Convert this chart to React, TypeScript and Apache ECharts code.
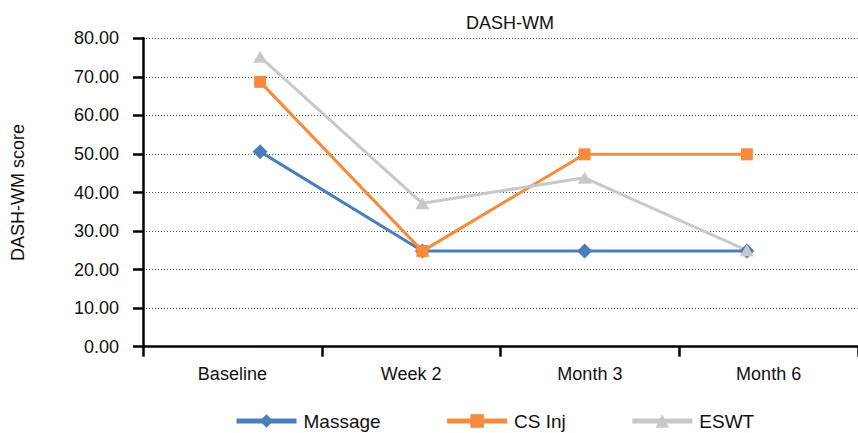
import React, { useEffect, useRef } from "react";
import * as echarts from "echarts";

const categories = ["Baseline", "Week 2", "Month 3", "Month 6"];
const massage = [50.6, 24.8, 24.8, 24.8];
const csInj = [68.7, 24.8, 49.9, 49.9];
const eswt = [75.2, 37.2, 43.8, 25.0];
const yTicks = { min: 0, max: 80, interval: 10 };

const FONT = "'Liberation Sans', Arial, Helvetica, sans-serif";

export default function App() {
  const ref = useRef<HTMLDivElement>(null);
  useEffect(() => {
    if (!ref.current) return;
    const chart = echarts.init(ref.current, null, { renderer: "svg" });
    const top = 38.3;
    const height = 308.4;
    chart.setOption({
      animation: false,
      textStyle: { fontFamily: FONT },
      title: {
        text: "DASH-WM",
        left: 505,
        top: 9,
        textAlign: "center",
        textStyle: { fontFamily: FONT, fontSize: 18, fontWeight: "normal", color: "#111" },
      },
      legend: {
        left: 229,
        top: 405,
        itemWidth: 60,
        itemHeight: 17,
        itemGap: 64,
        lineStyle: { width: 5 },
        textStyle: { fontFamily: FONT, fontSize: 19, color: "#111", padding: [0, 0, 0, 2], lineHeight: 22 },
        data: ["Massage", "CS Inj", "ESWT"],
      },
      grid: [
        { left: 143, top, height, width: 727 },
        { left: 179, top, height, width: 649 },
      ],
      xAxis: [
        {
          type: "category",
          gridIndex: 0,
          data: categories,
          boundaryGap: true,
          axisLine: { lineStyle: { color: "#000", width: 2.5 } },
          axisTick: { show: true, length: 10, lineStyle: { color: "#000", width: 2.5 } },
          axisLabel: { fontFamily: FONT, fontSize: 18, color: "#111", margin: 18 },
          splitLine: { show: false },
        },
        {
          type: "category",
          gridIndex: 1,
          data: categories,
          boundaryGap: true,
          show: false,
        },
      ],
      yAxis: [
        {
          type: "value",
          gridIndex: 0,
          min: yTicks.min,
          max: yTicks.max,
          interval: yTicks.interval,
          name: "DASH-WM score",
          nameLocation: "middle",
          nameGap: 116,
          nameTextStyle: { fontFamily: FONT, fontSize: 18, color: "#111" },
          axisLine: { show: true, lineStyle: { color: "#000", width: 2.5 } },
          axisTick: { show: true, length: 10, lineStyle: { color: "#000", width: 2.5 } },
          axisLabel: {
            fontFamily: FONT,
            fontSize: 18,
            color: "#111",
            margin: 24,
            formatter: (v: number) => v.toFixed(2),
          },
          splitLine: { show: true, lineStyle: { color: "#555", width: 1, type: [1, 2] } },
        },
        {
          type: "value",
          gridIndex: 1,
          min: yTicks.min,
          max: yTicks.max,
          interval: yTicks.interval,
          show: false,
          splitLine: { show: false },
        },
      ],
      series: [
        {
          name: "Massage",
          type: "line",
          xAxisIndex: 1,
          yAxisIndex: 1,
          data: massage,
          symbol: "diamond",
          symbolSize: 15,
          color: "#4a7ebb",
          lineStyle: { width: 3, color: "#4a7ebb" },
          itemStyle: { color: "#4a7ebb" },
        },
        {
          name: "CS Inj",
          type: "line",
          xAxisIndex: 1,
          yAxisIndex: 1,
          data: csInj,
          symbol: "rect",
          symbolSize: 12,
          color: "#f68a3d",
          lineStyle: { width: 3, color: "#f68a3d" },
          itemStyle: { color: "#f68a3d" },
        },
        {
          name: "ESWT",
          type: "line",
          xAxisIndex: 1,
          yAxisIndex: 1,
          data: eswt,
          symbol: "triangle",
          symbolSize: [14, 12],
          color: "#c8c8c8",
          lineStyle: { width: 3, color: "#c8c8c8" },
          itemStyle: { color: "#c8c8c8" },
        },
      ],
    });
    return () => chart.dispose();
  }, []);
  return (
    <div
      ref={ref}
      style={{ position: "fixed", left: 0, top: 0, width: 858, height: 433, background: "#fff" }}
    />
  );
}
